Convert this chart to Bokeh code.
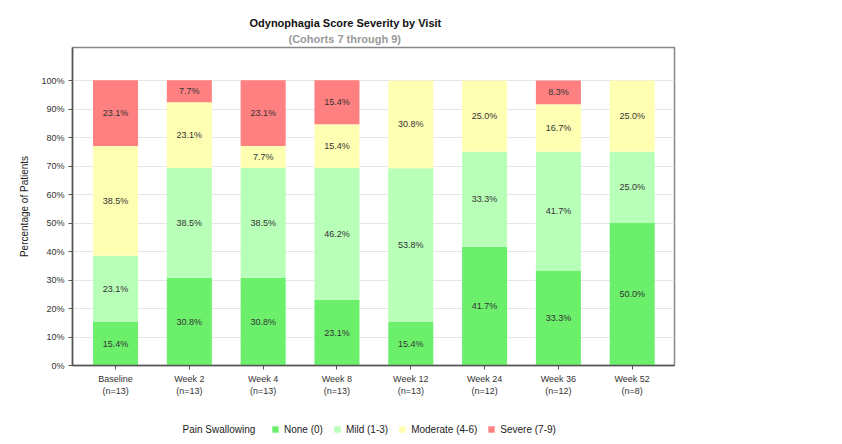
from bokeh.plotting import figure
from bokeh.layouts import column
from bokeh.models import FixedTicker, Legend, LegendItem, Title, Range1d, ColumnDataSource
from bokeh.embed import file_html
from bokeh.resources import INLINE
from bokeh.core.properties import value

visits = ["Baseline", "Week 2", "Week 4", "Week 8", "Week 12", "Week 24", "Week 36", "Week 52"]
n_counts = [13, 13, 13, 13, 13, 12, 12, 8]
legend_title = "Pain Swallowing"
series_names = ["None (0)", "Mild (1-3)", "Moderate (4-6)", "Severe (7-9)"]
none_pct = [15.4, 30.8, 30.8, 23.1, 15.4, 41.7, 33.3, 50.0]
mild_pct = [23.1, 38.5, 38.5, 46.2, 53.8, 33.3, 41.7, 25.0]
moderate_pct = [38.5, 23.1, 7.7, 15.4, 30.8, 25.0, 16.7, 25.0]
severe_pct = [23.1, 7.7, 23.1, 15.4, 0.0, 0.0, 8.3, 0.0]
y_ticks = [0, 10, 20, 30, 40, 50, 60, 70, 80, 90, 100]
y_tick_labels = ["0%", "10%", "20%", "30%", "40%", "50%", "60%", "70%", "80%", "90%", "100%"]
colors = ["#6CF06C", "#B8FFB8", "#FFFFB3", "#FF8080"]

FONT = "Liberation Sans"
xs = list(range(len(visits)))
keys = ["none", "mild", "moderate", "severe"]
series = [none_pct, mild_pct, moderate_pct, severe_pct]
src = ColumnDataSource(dict(x=xs, **{k: v for k, v in zip(keys, series)}))

p = figure(frame_width=602, frame_height=318, output_backend="svg", toolbar_location=None,
           x_range=Range1d(-0.583, 7.573), y_range=Range1d(0, 111.6),
           min_border_left=72, min_border_right=160, min_border_top=47, min_border_bottom=40)
p.background_fill_color = "white"
p.border_fill_color = "white"
p.outline_line_color = "#888888"
p.outline_line_width = 1.5

p.vbar_stack(keys, x="x", width=0.61, source=src, color=colors, line_color=None)

# segment labels
lx, ly, lt = [], [], []
for i in xs:
    base = 0.0
    for s in series:
        v = s[i]
        if v > 0:
            lx.append(i)
            ly.append(base + v / 2)
            lt.append(f"{v:.1f}%")
        base += v
p.text(x=lx, y=ly, text=lt, text_align="center", text_baseline="middle",
       text_font=value(FONT), text_font_size="9px", text_color="#333333")

# axes
p.xgrid.visible = False
p.ygrid.grid_line_color = "#e6e6e6"
p.ygrid.ticker = FixedTicker(ticks=y_ticks)

p.yaxis.ticker = FixedTicker(ticks=y_ticks)
p.yaxis.major_label_overrides = {t: l for t, l in zip(y_ticks, y_tick_labels)}
p.xaxis.ticker = FixedTicker(ticks=xs)
p.xaxis.major_label_overrides = {i: f"{v}\n(n={n})" for i, v, n in zip(xs, visits, n_counts)}

for ax in (p.xaxis, p.yaxis):
    ax.axis_line_color = "#555555"
    ax.axis_line_width = 1.5
    ax.major_tick_line_color = "#555555"
    ax.major_tick_in = 0
    ax.major_tick_out = 4
    ax.minor_tick_line_color = None
    ax.major_label_text_font = FONT
    ax.major_label_text_font_size = "9px"
    ax.major_label_text_color = "#333333"
    ax.major_label_standoff = 4

p.yaxis.axis_label = "Percentage of Patients"
p.yaxis.axis_label_text_font = FONT
p.yaxis.axis_label_text_font_size = "10px"
p.yaxis.axis_label_text_font_style = "normal"
p.yaxis.axis_label_text_color = "#222222"
p.yaxis.axis_label_standoff = 8

# titles
sub = Title(text="(Cohorts 7 through 9)", align="left", offset=216, text_font=FONT,
            text_font_size="11px", text_font_style="bold", text_color="#999999", standoff=5)
main = Title(text="Odynophagia Score Severity by Visit", align="left", offset=177, text_font=FONT,
             text_font_size="11px", text_font_style="bold", text_color="#111111", standoff=0)
p.add_layout(sub, "above")
p.add_layout(main, "above")

# legend strip as its own small figure (frame aligned with the main plot's frame)
lp = figure(width=834, height=34, output_backend="svg", toolbar_location=None,
            x_range=Range1d(72, 674), y_range=Range1d(0, 34),
            x_axis_location=None, y_axis_location=None,
            min_border_left=0, min_border_right=0, min_border_top=0, min_border_bottom=0)
lp.grid.visible = False
lp.outline_line_color = None
lp.background_fill_color = "white"
lp.border_fill_color = "white"
lp.text(x=[182], y=[10], text=[legend_title], text_align="left", text_baseline="middle",
        text_font=value(FONT), text_font_size="10px", text_color="#222222")
leg_renderers = [lp.vbar(x=[2000], top=[1], width=1, color=c, line_color=None) for c in colors]
items = [LegendItem(label=n, renderers=[r]) for n, r in zip(series_names, leg_renderers)]
legend = Legend(items=items, orientation="horizontal", location=(199, 4),
                label_text_font=FONT, label_text_font_size="10px", label_text_color="#222222",
                glyph_width=8, glyph_height=8, label_height=12, label_standoff=5, spacing=10,
                padding=0, margin=0, border_line_color=None, background_fill_alpha=0)
lp.add_layout(legend, "center")

layout = column(p, lp, spacing=0)
open("out.html", "w").write(file_html(layout, INLINE))
